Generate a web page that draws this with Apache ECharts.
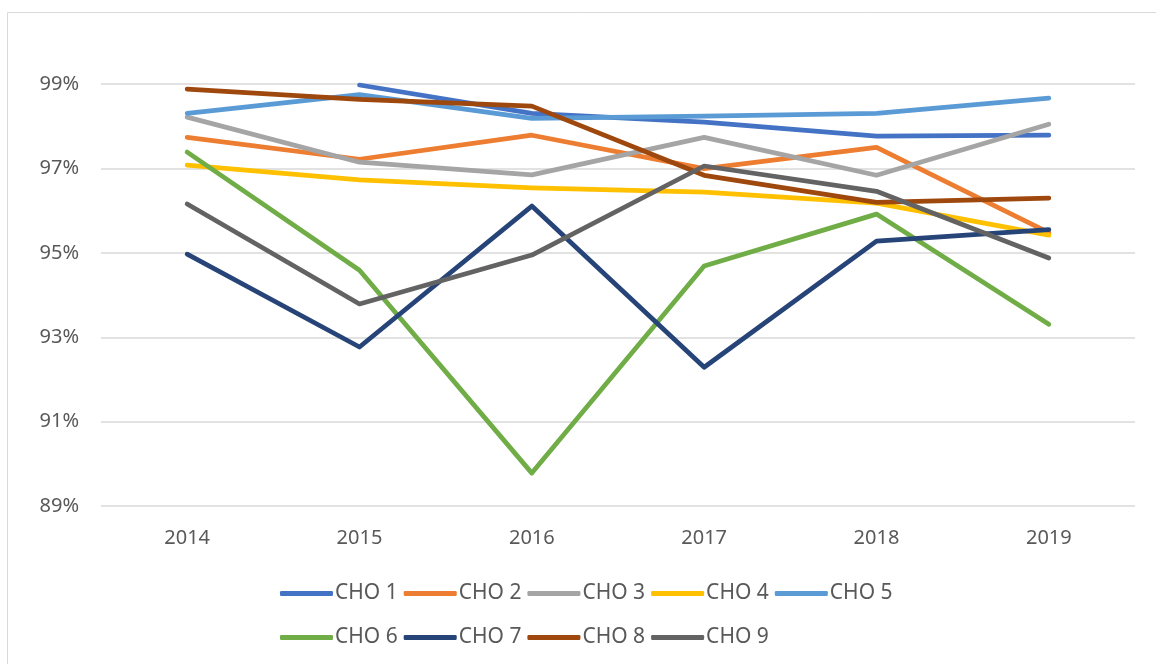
<!DOCTYPE html>
<html>
<head>
  <meta charset="utf-8">
  <title>CHO</title>
  <script src="https://cdn.jsdelivr.net/npm/echarts@6/dist/echarts.min.js"></script>
  <style>
    html, body { margin: 0; padding: 0; background: #fff; }
    #main { width: 1156px; height: 664px; }
  </style>
</head>
<body>
<div id="main"></div>
<script>
// 年份
var years = ['2014', '2015', '2016', '2017', '2018', '2019'];
var names = ['CHO 1', 'CHO 2', 'CHO 3', 'CHO 4', 'CHO 5', 'CHO 6', 'CHO 7', 'CHO 8', 'CHO 9'];
var colors = ['#4472C4', '#ED7D31', '#A5A5A5', '#FFC000', '#5B9BD5', '#70AD47', '#264478', '#9E480E', '#636363'];

// 数值 (%)
var cho1 = [null, 98.98, 98.31, 98.10, 97.77, 97.79];
var cho2 = [97.74, 97.22, 97.79, 97.00, 97.50, 95.48];
var cho3 = [98.22, 97.15, 96.85, 97.74, 96.84, 98.05];
var cho4 = [97.08, 96.73, 96.54, 96.44, 96.18, 95.42];
var cho5 = [98.31, 98.75, 98.19, 98.24, 98.31, 98.67];
var cho6 = [97.39, 94.59, 89.78, 94.69, 95.92, 93.31];
var cho7 = [94.97, 92.77, 96.11, 92.29, 95.28, 95.55];
var cho8 = [98.88, 98.64, 98.48, 96.84, 96.20, 96.30];
var cho9 = [96.16, 93.79, 94.95, 97.06, 96.46, 94.88];
var allData = [cho1, cho2, cho3, cho4, cho5, cho6, cho7, cho8, cho9];

var myChart = echarts.init(document.getElementById('main'));

var textStyle = { color: '#595959', fontSize: 20, fontFamily: 'Noto Sans' };

var series = [];
for (var i = 0; i < names.length; i++) {
  series.push({
    name: names[i],
    type: 'line',
    data: allData[i],
    symbol: 'none',
    connectNulls: false,
    lineStyle: { width: 4.75, color: colors[i], cap: 'round', join: 'round' },
    itemStyle: { color: colors[i] }
  });
}

// 图例分两行
function legendRow(list, top) {
  return {
    data: list,
    left: 275,
    top: top,
    orient: 'horizontal',
    icon: 'roundRect',
    itemWidth: 53,
    itemHeight: 5,
    itemGap: 6,
    textStyle: { color: '#595959', fontSize: 21, fontFamily: 'Noto Sans', padding: [0, 0, 0, -3] }
  };
}

var option = {
  animation: false,
  color: colors,
  graphic: [{
    type: 'rect',
    shape: { x: 7.5, y: 12.5, width: 1200, height: 700 },
    style: { fill: null, stroke: '#d9d9d9', lineWidth: 1 },
    silent: true
  }],
  legend: [legendRow(names.slice(0, 5), 578), legendRow(names.slice(5), 622)],
  grid: { left: 101, right: 21, top: 42, bottom: 158, containLabel: false },
  xAxis: {
    type: 'category',
    data: years,
    boundaryGap: true,
    axisLine: { show: false },
    axisTick: { show: false },
    axisLabel: Object.assign({ margin: 22 }, textStyle)
  },
  yAxis: {
    type: 'value',
    min: 89,
    max: 100,
    interval: 2,
    axisLine: { show: false },
    axisTick: { show: false },
    axisLabel: Object.assign({ margin: 22, formatter: '{value}%', showMaxLabel: false }, textStyle),
    splitLine: { show: true, showMaxLine: false, lineStyle: { color: '#d9d9d9', width: 1.5 } }
  },
  series: series
};

myChart.setOption(option);
</script>
</body>
</html>
